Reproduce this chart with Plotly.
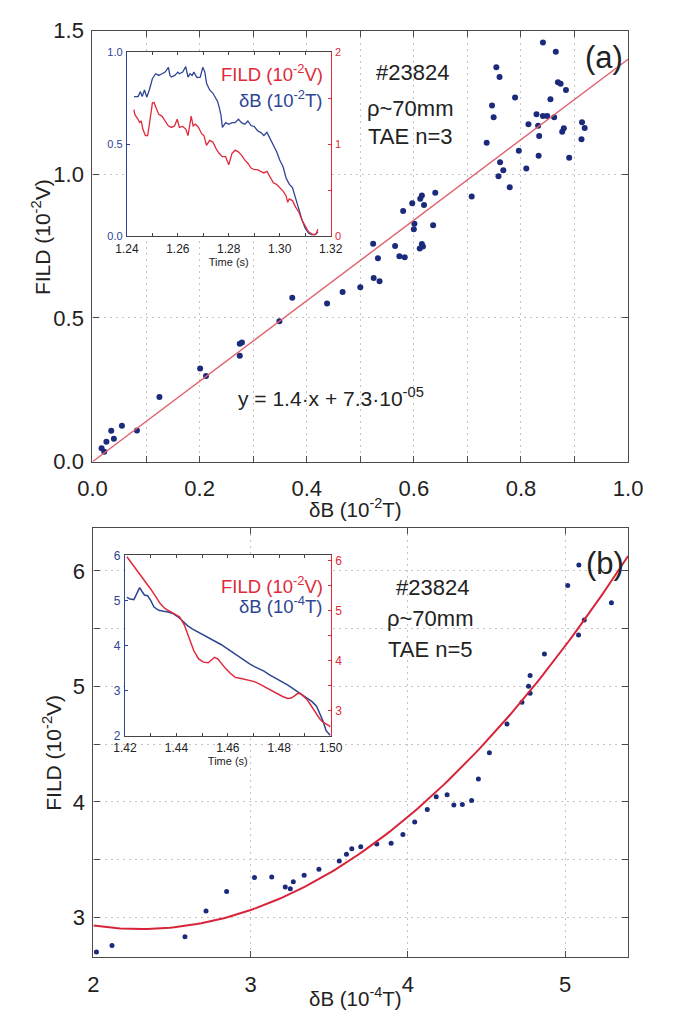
import numpy as np
import plotly.graph_objects as go

W, H = 689, 1021
FONT = "Liberation Sans, Arial, sans-serif"

# ---------------- Panel (a) data ----------------
a_x = [0.017, 0.022, 0.026, 0.035, 0.040, 0.055, 0.083, 0.125, 0.201, 0.212,
       0.275, 0.275, 0.279, 0.349, 0.373, 0.438, 0.467, 0.500, 0.525, 0.536,
       0.841, 0.865, 0.754, 0.760, 0.789, 0.746, 0.749, 0.855, 0.869, 0.874,
       0.884, 0.829, 0.841, 0.849, 0.862, 0.814, 0.832, 0.834, 0.880, 0.877,
       0.914, 0.919, 0.913, 0.736, 0.796, 0.833, 0.890, 0.761, 0.767, 0.810,
       0.758, 0.779, 0.708, 0.640, 0.615, 0.612, 0.597, 0.619, 0.580, 0.601,
       0.600, 0.636, 0.524, 0.565, 0.533, 0.573, 0.583, 0.615, 0.617, 0.611]
a_y = [0.047, 0.035, 0.069, 0.108, 0.080, 0.125, 0.109, 0.225, 0.324, 0.298,
       0.369, 0.410, 0.415, 0.489, 0.570, 0.550, 0.590, 0.607, 0.639, 0.628,
       1.458, 1.426, 1.372, 1.338, 1.267, 1.239, 1.198, 1.261, 1.320, 1.315,
       1.293, 1.209, 1.203, 1.203, 1.198, 1.174, 1.169, 1.133, 1.160, 1.148,
       1.181, 1.161, 1.122, 1.110, 1.082, 1.064, 1.057, 1.042, 1.014, 1.020,
       0.993, 0.955, 0.923, 0.936, 0.926, 0.915, 0.899, 0.893, 0.872, 0.828,
       0.809, 0.823, 0.758, 0.750, 0.708, 0.715, 0.711, 0.757, 0.749, 0.742]
a_fit_coef = [1.4, 7.3e-5]          # y = 1.4*x + 7.3e-5
a_fit_xrange = [0.0, 1.0]

# inset (a) time traces
a_dB_t = [1.2428, 1.2444, 1.2453, 1.2460, 1.2469, 1.2478, 1.2488, 1.2494, 1.2500, 1.2513,
          1.2525, 1.2538, 1.2550, 1.2563, 1.2569, 1.2575, 1.2588, 1.2600, 1.2606, 1.2619,
          1.2631, 1.2640, 1.2648, 1.2656, 1.2663, 1.2675, 1.2688, 1.2698, 1.2706, 1.2713,
          1.2725, 1.2738, 1.2750, 1.2756, 1.2763, 1.2769, 1.2775, 1.2788, 1.2800, 1.2813,
          1.2825, 1.2838, 1.2850, 1.2863, 1.2875, 1.2888, 1.2900, 1.2913, 1.2925, 1.2938,
          1.2950, 1.2963, 1.2975, 1.2988, 1.3000, 1.3013, 1.3025, 1.3038, 1.3050, 1.3063,
          1.3075, 1.3088, 1.3100, 1.3113, 1.3125, 1.3138, 1.3144, 1.3150]
a_dB_v = [0.758, 0.758, 0.785, 0.758, 0.794, 0.755, 0.794, 0.829, 0.855, 0.882,
          0.873, 0.882, 0.891, 0.917, 0.873, 0.864, 0.873, 0.891, 0.882, 0.891,
          0.921, 0.864, 0.882, 0.873, 0.891, 0.861, 0.864, 0.917, 0.891, 0.829,
          0.794, 0.776, 0.750, 0.732, 0.697, 0.661, 0.591, 0.617, 0.608, 0.617,
          0.617, 0.635, 0.617, 0.608, 0.626, 0.600, 0.596, 0.573, 0.564, 0.547,
          0.564, 0.529, 0.494, 0.459, 0.414, 0.379, 0.317, 0.282, 0.265, 0.203,
          0.141, 0.088, 0.044, 0.018, 0.009, 0.009, 0.014, 0.026]
a_fild_t = [1.24275, 1.2431, 1.24438, 1.245, 1.24563, 1.24625, 1.24725, 1.24813, 1.24875, 1.24938,
            1.25, 1.25063, 1.25125, 1.2525, 1.25375, 1.255, 1.25625, 1.2575, 1.25875, 1.25975,
            1.26063, 1.26188, 1.26313, 1.264, 1.26475, 1.26525, 1.266, 1.26688, 1.26813, 1.26938,
            1.27025, 1.27125, 1.2725, 1.27375, 1.275, 1.27625, 1.2775, 1.27875, 1.28, 1.28125,
            1.2825, 1.28375, 1.285, 1.28625, 1.2875, 1.28875, 1.29, 1.29125, 1.2925, 1.29375,
            1.295, 1.29625, 1.2975, 1.29875, 1.3, 1.30125, 1.3025, 1.30313, 1.30375, 1.305,
            1.30625, 1.3075, 1.30875, 1.31, 1.31125, 1.3125, 1.31375, 1.31438, 1.315]
a_fild_v = [1.376, 1.323, 1.270, 1.235, 1.252, 1.164, 1.093, 1.093, 1.199, 1.340,
            1.446, 1.453, 1.411, 1.323, 1.305, 1.252, 1.199, 1.182, 1.199, 1.270,
            1.182, 1.192, 1.164, 1.093, 1.235, 1.305, 1.199, 1.217, 1.182, 1.111,
            1.093, 0.988, 1.041, 1.023, 0.952, 0.899, 0.864, 0.864, 0.776, 0.899,
            0.935, 0.917, 0.882, 0.829, 0.794, 0.741, 0.723, 0.723, 0.705, 0.688,
            0.705, 0.635, 0.582, 0.564, 0.529, 0.494, 0.441, 0.370, 0.406, 0.388,
            0.317, 0.265, 0.176, 0.106, 0.053, 0.028, 0.018, 0.035, 0.078]

# ---------------- Panel (b) data ----------------
b_x = [2.019, 2.118, 2.582, 2.716, 2.847, 3.024, 3.134, 3.220, 3.252, 3.271,
       3.340, 3.434, 3.563, 3.609, 3.643, 3.700, 3.802, 3.893, 3.968, 4.043,
       4.123, 4.180, 4.249, 4.292, 4.346, 4.405, 4.448, 4.518, 4.630, 4.725,
       4.777, 4.767, 4.777, 4.868, 5.016, 5.085, 5.087, 5.121, 5.294]
b_y = [2.700, 2.756, 2.832, 3.056, 3.224, 3.345, 3.350, 3.263, 3.249, 3.308,
       3.364, 3.417, 3.489, 3.546, 3.594, 3.611, 3.636, 3.641, 3.717, 3.826,
       3.933, 4.045, 4.062, 3.972, 3.978, 4.011, 4.199, 4.425, 4.673, 4.862,
       4.941, 5.000, 5.093, 5.279, 5.873, 5.445, 6.050, 5.575, 5.724]
b_fit_coef = [0.336, -1.5456, 4.677]   # quadratic fit
b_fit_xrange = [2.0, 5.4]

b_dB_t = [1.42074, 1.42198, 1.42347, 1.42446, 1.4257, 1.4267, 1.42756, 1.4288, 1.43004, 1.43128,
          1.43314, 1.435, 1.43686, 1.43872, 1.44058, 1.44244, 1.4443, 1.44616, 1.44802, 1.44988,
          1.45174, 1.4536, 1.45546, 1.45732, 1.45918, 1.46104, 1.4629, 1.46476, 1.46662, 1.46848,
          1.47034, 1.4722, 1.47406, 1.47592, 1.47778, 1.47964, 1.4815, 1.48336, 1.48522, 1.48708,
          1.48894, 1.4908, 1.49266, 1.49452, 1.49576, 1.497, 1.49824, 1.49948, 1.4999]
b_dB_v = [5.070, 5.034, 5.020, 5.142, 5.286, 5.193, 5.121, 5.106, 4.998, 4.854,
          4.782, 4.761, 4.746, 4.710, 4.638, 4.545, 4.443, 4.371, 4.314, 4.256,
          4.205, 4.148, 4.097, 4.025, 3.953, 3.881, 3.795, 3.723, 3.650, 3.593,
          3.535, 3.485, 3.434, 3.362, 3.305, 3.232, 3.175, 3.124, 3.052, 2.980,
          2.908, 2.836, 2.764, 2.656, 2.512, 2.332, 2.115, 2.043, 2.007]
b_fild_t = [1.42074, 1.4226, 1.42446, 1.42632, 1.42818, 1.43004, 1.4319, 1.43376, 1.43562, 1.43748,
            1.43934, 1.4412, 1.44306, 1.44492, 1.44678, 1.44864, 1.4505, 1.45236, 1.4536, 1.45484,
            1.45608, 1.45732, 1.45918, 1.46104, 1.4629, 1.46476, 1.46662, 1.46848, 1.47034, 1.4722,
            1.47406, 1.47592, 1.47778, 1.47964, 1.4815, 1.48336, 1.4846, 1.48584, 1.48708, 1.48832,
            1.48956, 1.4908, 1.49204, 1.49328, 1.49452, 1.49576, 1.497, 1.49824, 1.49948, 1.4999]
b_fild_v = [6.071, 5.942, 5.813, 5.683, 5.567, 5.425, 5.282, 5.134, 5.037, 4.985,
            4.940, 4.875, 4.714, 4.455, 4.197, 4.035, 3.970, 3.957, 4.016, 4.067,
            4.035, 3.951, 3.841, 3.744, 3.666, 3.647, 3.628, 3.615, 3.582, 3.537,
            3.485, 3.434, 3.369, 3.324, 3.279, 3.246, 3.253, 3.292, 3.343, 3.343,
            3.292, 3.227, 3.130, 3.033, 2.936, 2.839, 2.774, 2.742, 2.697, 2.677]

# ---------------- styling ----------------
DOT = "#1b2a7a"
BLUE = "#2e4593"
RED = "#e02a3c"
AXC = "#4a4a4a"
GRID = "#c4c4c4"
GDASH = "2px,4px"


def px(x):
    return x / W


def py(y):
    return 1 - y / H


fig = go.Figure()

# main (a)
fig.add_trace(go.Scatter(x=a_x, y=a_y, mode="markers", marker=dict(size=6, color=DOT),
                         xaxis="x", yaxis="y", showlegend=False))
xa = np.array(a_fit_xrange)
fig.add_trace(go.Scatter(x=xa, y=np.polyval(a_fit_coef, xa), mode="lines",
                         line=dict(color="#e0606e", width=1.4), xaxis="x", yaxis="y", showlegend=False))
# main (b)
fig.add_trace(go.Scatter(x=b_x, y=b_y, mode="markers", marker=dict(size=5, color=DOT),
                         xaxis="x2", yaxis="y2", showlegend=False))
xb = np.linspace(b_fit_xrange[0], b_fit_xrange[1], 120)
fig.add_trace(go.Scatter(x=xb, y=np.polyval(b_fit_coef, xb), mode="lines",
                         line=dict(color="#d8243a", width=2), xaxis="x2", yaxis="y2", showlegend=False))
# inset (a)
fig.add_trace(go.Scatter(x=a_dB_t, y=a_dB_v, mode="lines", line=dict(color=BLUE, width=1.3),
                         xaxis="x3", yaxis="y3", showlegend=False))
fig.add_trace(go.Scatter(x=a_fild_t, y=a_fild_v, mode="lines", line=dict(color=RED, width=1.3),
                         xaxis="x3", yaxis="y4", showlegend=False))
# inset (b)
fig.add_trace(go.Scatter(x=b_dB_t, y=b_dB_v, mode="lines", line=dict(color=BLUE, width=1.5),
                         xaxis="x4", yaxis="y5", showlegend=False))
fig.add_trace(go.Scatter(x=b_fild_t, y=b_fild_v, mode="lines", line=dict(color=RED, width=1.5),
                         xaxis="x4", yaxis="y6", showlegend=False))

main_ax = dict(showline=True, linecolor=AXC, linewidth=1.3, mirror="ticks", ticks="inside",
               ticklen=6, tickcolor=AXC, showgrid=True, gridcolor=GRID, griddash=GDASH,
               gridwidth=1, zeroline=False, tickfont=dict(size=22, color="#222", family=FONT),
               ticklabelstandoff=3)
main_xax = dict(main_ax, ticklabelstandoff=7)
main_minor = dict(ticks="inside", ticklen=6, tickcolor=AXC, showgrid=True,
                  gridcolor=GRID, griddash=GDASH, gridwidth=1)
ins_ax = dict(showline=True, linewidth=1.2, ticks="inside", ticklen=3, showgrid=False,
              zeroline=False, tickfont=dict(size=12, family=FONT), ticklabelstandoff=1)

layout = dict(
    width=W, height=H, margin=dict(l=0, r=0, t=0, b=0),
    paper_bgcolor="white", plot_bgcolor="white",
    font=dict(family=FONT, color="#222"),
    xaxis=dict(main_xax, domain=[px(81), px(641)], range=[0, 1], anchor="y",
               tick0=0, dtick=0.2, tickformat=".1f", minor=dict(main_minor, dtick=0.1)),
    yaxis=dict(main_ax, domain=[py(461), py(19)], range=[0, 1.5], anchor="x",
               tick0=0, dtick=0.5, tickformat=".1f"),
    xaxis2=dict(main_xax, domain=[px(82), px(641)], range=[2, 5.4], anchor="y2",
                tick0=2, dtick=1),
    yaxis2=dict(main_ax, domain=[py(969), py(529)], range=[2.655, 6.37], anchor="x2",
                tick0=3, dtick=1, minor=dict(main_minor, tick0=3, dtick=0.5)),
    xaxis3=dict(ins_ax, domain=[px(117), px(330)], range=[1.24, 1.32], anchor="y3",
                linecolor="#444", mirror="ticks", tickcolor="#444",
                tick0=1.24, dtick=0.02, tickformat=".2f",
                minor=dict(ticks="inside", ticklen=3, tickcolor="#444", dtick=0.01, tick0=1.24),
                title=dict(text="Time (s)", font=dict(size=11), standoff=0)),
    yaxis3=dict(ins_ax, domain=[py(230), py(41)], range=[0, 1], anchor="x3",
                linecolor=BLUE, tickcolor=BLUE, tickfont=dict(size=11, color=BLUE, family=FONT),
                tick0=0, dtick=0.5, tickformat=".1f"),
    yaxis4=dict(ins_ax, overlaying="y3", side="right", range=[0, 2], anchor="x3",
                linecolor=RED, tickcolor=RED, tickfont=dict(size=11, color=RED, family=FONT),
                tick0=0, dtick=1,
                minor=dict(ticks="inside", ticklen=3, tickcolor=RED, dtick=0.5, tick0=0)),
    xaxis4=dict(ins_ax, domain=[px(115), px(330)], range=[1.42, 1.50], anchor="y5",
                linecolor="#444", mirror="ticks", tickcolor="#444",
                tick0=1.42, dtick=0.02, tickformat=".2f",
                minor=dict(ticks="inside", ticklen=3, tickcolor="#444", dtick=0.01, tick0=1.42),
                title=dict(text="Time (s)", font=dict(size=11), standoff=0)),
    yaxis5=dict(ins_ax, domain=[py(742), py(557)], range=[2, 6], anchor="x4",
                linecolor=BLUE, tickcolor=BLUE, tickfont=dict(size=12, color=BLUE, family=FONT),
                tick0=2, dtick=1),
    yaxis6=dict(ins_ax, overlaying="y5", side="right", range=[2.5, 6.1], anchor="x4",
                linecolor=RED, tickcolor=RED, tickfont=dict(size=12, color=RED, family=FONT),
                tick0=3, dtick=1,
                minor=dict(ticks="inside", ticklen=3, tickcolor=RED, dtick=0.5, tick0=2.5)),
)
fig.update_layout(**layout)


def ann(text, x, y, size, color="#222", xanchor="center", angle=0):
    fig.add_annotation(text=text, x=px(x), y=py(y), xref="paper", yref="paper",
                       showarrow=False, xanchor=xanchor, yanchor="middle", textangle=angle,
                       font=dict(size=size, color=color, family=FONT))


# axis titles
ann("δB (10<sup>-2</sup>T)", 356, 508, 20.5)
ann("FILD (10<sup>-2</sup>V)", 28, 231, 21, angle=-90)
ann("δB (10<sup>-4</sup>T)", 356, 1010, 20.5)
ann("FILD (10<sup>-2</sup>V)", 39, 759, 21, angle=-90)
# panel (a) labels
ann("(a)", 616, 47, 31)
ann("#23824", 416, 62, 22)
ann("ρ~70mm", 414, 99, 22)
ann("TAE n=3", 414, 128, 22)
ann("y = 1.4·x + 7.3·10<sup>-05</sup>", 330, 395, 21)
ann("FILD (10<sup>-2</sup>V)", 324, 63, 18.5, color=RED, xanchor="right")
ann("δB (10<sup>-2</sup>T)", 324, 89, 18.5, color=BLUE, xanchor="right")
# panel (b) labels
ann("(b)", 617, 565, 31)
ann("#23824", 437, 590, 22)
ann("ρ~70mm", 434, 622, 22)
ann("TAE n=5", 434, 653, 22)
ann("FILD (10<sup>-2</sup>V)", 324, 587, 18.5, color=RED, xanchor="right")
ann("δB (10<sup>-4</sup>T)", 324, 608, 18.5, color=BLUE, xanchor="right")

fig.write_html("out.html")
